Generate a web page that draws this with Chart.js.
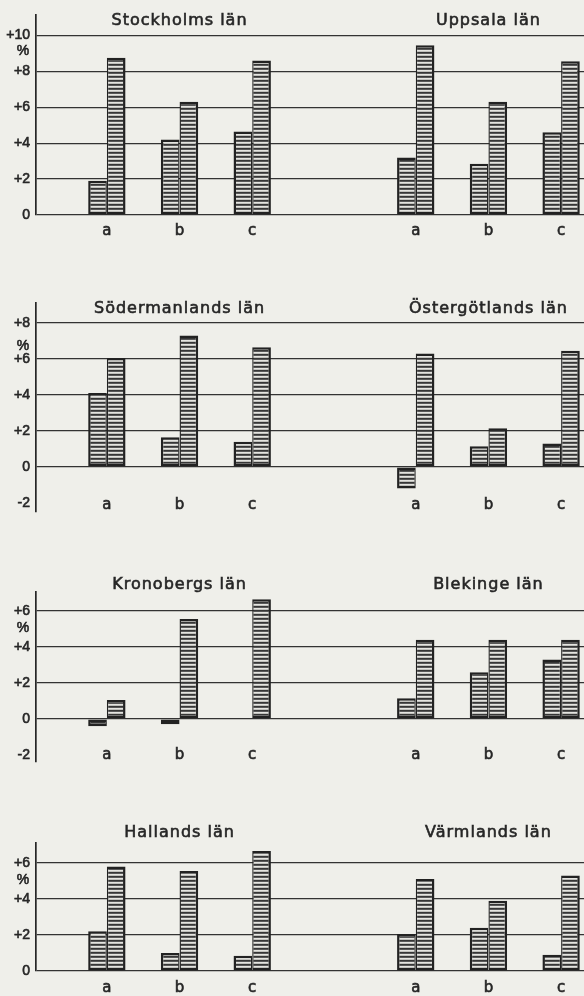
<!DOCTYPE html>
<html lang="sv">
<head>
<meta charset="utf-8">
<title>Län a, b, c</title>
<script src="https://cdn.jsdelivr.net/npm/chart.js@4.4.1/dist/chart.umd.min.js"></script>
<style>
  html, body { margin: 0; padding: 0; background: #efefea; overflow: hidden; }
  body { position: relative; width: 584px; height: 996px; }
  canvas { position: absolute; left: 0; }
</style>
</head>
<body>
<canvas id="fila1" width="584" height="250" style="top:0px"></canvas>
<canvas id="fila2" width="584" height="280" style="top:250px"></canvas>
<canvas id="fila3" width="584" height="270" style="top:530px"></canvas>
<canvas id="fila4" width="584" height="196" style="top:800px"></canvas>
<script>
const categorias = ["a", "b", "c"];

// valores en %, barra izquierda (1) y derecha (2) de cada grupo a, b, c
const stockholm1 = [1.9, 4.2, 4.65];
const stockholm2 = [8.75, 6.3, 8.6];
const uppsala1 = [3.2, 2.85, 4.6];
const uppsala2 = [9.45, 6.3, 8.55];

const sodermanland1 = [4.1, 1.65, 1.4];
const sodermanland2 = [6.05, 7.3, 6.65];
const ostergotland1 = [-1.2, 1.15, 1.3];
const ostergotland2 = [6.3, 2.15, 6.45];

const kronoberg1 = [-0.4, -0.3, 0];
const kronoberg2 = [1.05, 5.55, 6.65];
const blekinge1 = [1.15, 2.6, 3.3];
const blekinge2 = [4.4, 4.4, 4.4];

const halland1 = [2.2, 1.0, 0.85];
const halland2 = [5.8, 5.55, 6.65];
const varmland1 = [2.05, 2.4, 0.9];
const varmland2 = [5.1, 3.9, 5.3];

const ticksFila1 = [0, 2, 4, 6, 8, 10];
const ticksFila2 = [-2, 0, 2, 4, 6, 8];
const ticksFila3 = [-2, 0, 2, 4, 6];
const ticksFila4 = [0, 2, 4, 6];

// posición de cada grupo en el eje x (1 unidad ~ ancho de una barra)
const posGrupos = [3.9, 7.9, 11.9, 20.9, 24.9, 28.9];

const filas = [
  { id: "fila1", titulos: ["Stockholms län", "Uppsala län"], izq: [stockholm1, uppsala1], der: [stockholm2, uppsala2],
    ticks: ticksFila1, min: 0, max: 11.16, padding: { top: 13, bottom: 35 }, tituloY: 25, porcentajeY: 51.5, letrasY: 231 },
  { id: "fila2", titulos: ["Södermanlands län", "Östergötlands län"], izq: [sodermanland1, ostergotland1], der: [sodermanland2, ostergotland2],
    ticks: ticksFila2, min: -2.5, max: 9.1, padding: { top: 53, bottom: 18 }, tituloY: 63, porcentajeY: 96, letrasY: 255 },
  { id: "fila3", titulos: ["Kronobergs län", "Blekinge län"], izq: [kronoberg1, blekinge1], der: [kronoberg2, blekinge2],
    ticks: ticksFila3, min: -2.39, max: 7.05, padding: { top: 62, bottom: 38 }, tituloY: 59, porcentajeY: 98, letrasY: 225 },
  { id: "fila4", titulos: ["Hallands län", "Värmlands län"], izq: [halland1, varmland1], der: [halland2, varmland2],
    ticks: ticksFila4, min: 0, max: 7.1, padding: { top: 43, bottom: 25 }, tituloY: 37, porcentajeY: 80, letrasY: 188 }
];

const TINTA = "#262626";

function crearRayado(contexto) {
  const c = document.createElement("canvas");
  c.width = 4;
  c.height = 4;
  const g = c.getContext("2d");
  ["#363636", "#585858", "#e4e4e0", "#c0c0bc"].forEach((color, i) => {
    g.fillStyle = color;
    g.fillRect(0, i, 4, 1);
  });
  return contexto.createPattern(c, "repeat");
}

// texto un poco más grueso, como el rotulado del original
function escribir(ctx, texto, x, y) {
  ctx.fillText(texto, x, y);
  ctx.strokeText(texto, x, y);
}

const textosPlugin = {
  id: "textos",
  afterDraw(chart, args, opts) {
    const ctx = chart.ctx;
    const escalaX = chart.scales.x;
    ctx.save();
    ctx.fillStyle = TINTA;
    ctx.strokeStyle = TINTA;
    ctx.lineWidth = 0.6;
    ctx.textAlign = "center";

    ctx.font = "16px 'DejaVu Sans'";
    ctx.letterSpacing = "1px";
    ctx.textBaseline = "alphabetic";
    opts.titulos.forEach((titulo, i) => {
      escribir(ctx, titulo, escalaX.getPixelForValue(posGrupos[1 + 3 * i]), opts.tituloY);
    });
    ctx.letterSpacing = "0px";

    ctx.font = "15px 'DejaVu Sans'";
    ctx.textBaseline = "middle";
    posGrupos.forEach((pos, i) => {
      escribir(ctx, categorias[i % 3], escalaX.getPixelForValue(pos), opts.letrasY);
    });

    ctx.font = "14px 'Liberation Sans'";
    escribir(ctx, "%", chart.chartArea.left - 13, opts.porcentajeY);
    ctx.restore();
  }
};

function dibujarFila(fila) {
  const canvas = document.getElementById(fila.id);
  const contexto = canvas.getContext("2d");
  const rayado = crearRayado(contexto);

  const izquierda = fila.izq[0].concat(fila.izq[1]);
  const derecha = fila.der[0].concat(fila.der[1]);

  const estiloBarra = {
    backgroundColor: rayado,
    borderColor: "#222222",
    borderSkipped: false,
    categoryPercentage: 0.514,
    barPercentage: 1
  };

  new Chart(contexto, {
    type: "bar",
    data: {
      datasets: [
        { ...estiloBarra, data: posGrupos.map((x, i) => ({ x, y: izquierda[i] })),
          borderWidth: { top: 2.5, bottom: 2.5, left: 2.5, right: 1.4 } },
        { ...estiloBarra, data: posGrupos.map((x, i) => ({ x, y: derecha[i] })),
          borderWidth: { top: 2.5, bottom: 2.5, left: 1.4, right: 2.5 } }
      ]
    },
    options: {
      responsive: false,
      animation: false,
      layout: { padding: { top: fila.padding.top, bottom: fila.padding.bottom, left: 0, right: 0 } },
      plugins: {
        legend: { display: false },
        tooltip: { enabled: false },
        textos: { titulos: fila.titulos, tituloY: fila.tituloY, porcentajeY: fila.porcentajeY, letrasY: fila.letrasY }
      },
      scales: {
        x: {
          type: "linear",
          display: false,
          offset: false,
          min: 0,
          max: 30.16,
          afterBuildTicks: (escala) => { escala.ticks = posGrupos.map((v) => ({ value: v })); }
        },
        y: {
          min: fila.min,
          max: fila.max,
          afterBuildTicks: (escala) => { escala.ticks = fila.ticks.map((v) => ({ value: v })); },
          afterFit: (escala) => { escala.width = 36; },
          border: { display: true, color: TINTA, width: 1.7 },
          grid: {
            color: (c) => (c.tick && c.tick.value < 0 ? "rgba(0,0,0,0)" : "#333333"),
            lineWidth: 1.2,
            drawTicks: false
          },
          ticks: {
            color: TINTA,
            padding: 6,
            textStrokeColor: TINTA,
            textStrokeWidth: 0.6,
            font: { family: "Liberation Sans", size: 14 },
            callback: (v) => (v > 0 ? "+" + v : String(v))
          }
        }
      }
    },
    plugins: [textosPlugin]
  });
}

filas.forEach(dibujarFila);
</script>
</body>
</html>
